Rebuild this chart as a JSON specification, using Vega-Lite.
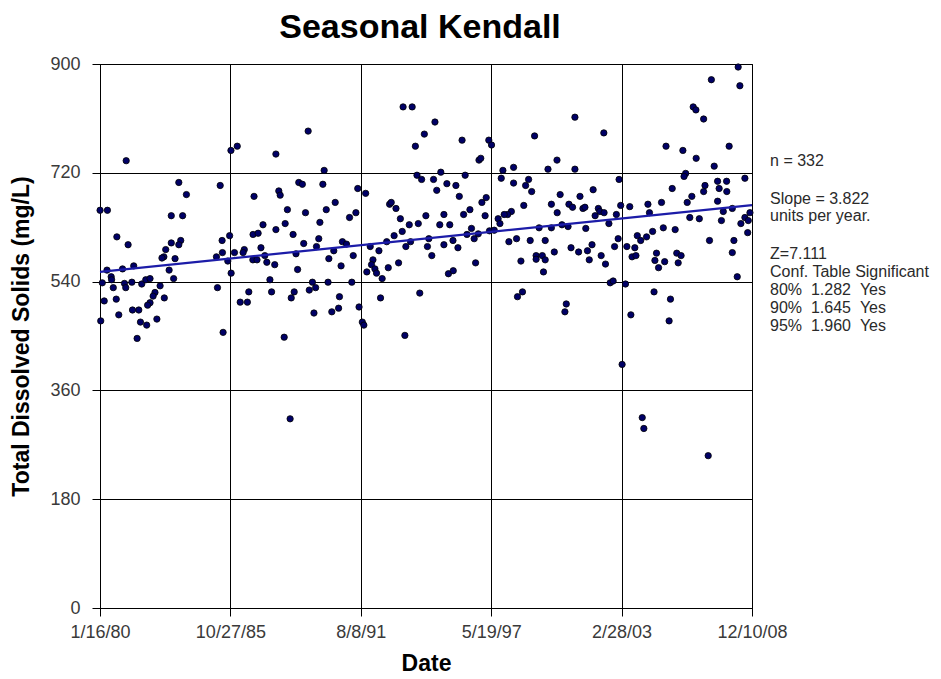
{
  "$schema": "https://vega.github.io/schema/vega-lite/v6.json",
  "width": 652,
  "height": 544,
  "autosize": {"type": "none"},
  "padding": {"left": 100, "top": 64, "right": 189, "bottom": 71},
  "background": "white",
  "title": {"text": "Seasonal Kendall", "fontSize": 34, "fontWeight": "bold", "font": "Liberation Sans", "color": "#000000", "anchor": "middle", "offset": 10, "dx": -6},
  "config": {
    "font": "Liberation Sans",
    "view": {"stroke": "#000000", "strokeWidth": 1},
    "axis": {
      "domainColor": "#000000", "tickColor": "#000000", "gridColor": "#000000", "gridOpacity": 1, "gridWidth": 1,
      "labelColor": "#3a3a3a", "labelFontSize": 18, "labelFont": "Liberation Sans",
      "titleColor": "#000000", "titleFontSize": 23, "titleFont": "Liberation Sans", "titleFontWeight": "bold",
      "tickSize": 8
    }
  },
  "datasets": {
    "obs": [
      {"date":"1981-03-15","tds":740},{"date":"1983-07-15","tds":704},{"date":"1985-05-15","tds":699},{"date":"1983-11-15","tds":684},
      {"date":"1980-01-17","tds":658},{"date":"1980-05-15","tds":658},{"date":"1983-03-15","tds":649},{"date":"1983-09-15","tds":649},
      {"date":"1980-10-15","tds":614},{"date":"1981-04-15","tds":601},{"date":"1983-08-15","tds":608},{"date":"1983-07-15","tds":601},
      {"date":"1983-03-15","tds":604},{"date":"1982-12-15","tds":593},{"date":"1982-11-15","tds":581},{"date":"1982-10-15","tds":579},
      {"date":"1983-05-15","tds":578},{"date":"1985-06-15","tds":608},{"date":"1985-10-15","tds":616},{"date":"1985-03-15","tds":581},
      {"date":"1985-06-20","tds":588},{"date":"1985-09-15","tds":574},{"date":"1985-11-08","tds":554},{"date":"1980-05-08","tds":559},
      {"date":"1980-07-15","tds":548},{"date":"1981-01-15","tds":561},{"date":"1981-07-15","tds":566},{"date":"1983-02-08","tds":559},
      {"date":"1983-04-22","tds":545},{"date":"1980-02-22","tds":538},{"date":"1980-07-22","tds":543},{"date":"1980-08-18","tds":530},
      {"date":"1981-02-15","tds":537},{"date":"1981-03-08","tds":530},{"date":"1981-06-15","tds":539},{"date":"1981-11-22","tds":536},
      {"date":"1982-01-26","tds":543},{"date":"1982-04-05","tds":545},{"date":"1982-09-15","tds":533},{"date":"1985-04-01","tds":530},
      {"date":"1980-03-24","tds":508},{"date":"1980-10-05","tds":511},{"date":"1982-06-24","tds":522},{"date":"1982-05-25","tds":516},
      {"date":"1982-04-05","tds":505},{"date":"1982-02-25","tds":501},{"date":"1982-11-22","tds":513},{"date":"1980-01-28","tds":475},
      {"date":"1980-11-15","tds":485},{"date":"1981-06-25","tds":493},{"date":"1981-10-05","tds":493},{"date":"1981-11-01","tds":473},
      {"date":"1982-02-10","tds":468},{"date":"1982-07-25","tds":478},{"date":"1981-09-08","tds":446},{"date":"1985-07-01","tds":456},
      {"date":"1985-11-05","tds":757},{"date":"1986-02-15","tds":764},{"date":"1987-11-03","tds":751},{"date":"1989-04-08","tds":789},
      {"date":"1989-12-23","tds":724},{"date":"1988-11-07","tds":704},{"date":"1989-01-04","tds":701},{"date":"1989-12-02","tds":701},
      {"date":"1987-12-20","tds":690},{"date":"1988-01-11","tds":683},{"date":"1986-11-14","tds":681},{"date":"1991-06-20","tds":694},
      {"date":"1988-05-07","tds":659},{"date":"1989-02-24","tds":654},{"date":"1990-01-26","tds":659},{"date":"1990-06-20","tds":671},
      {"date":"1991-02-07","tds":646},{"date":"1991-05-21","tds":654},{"date":"1987-04-08","tds":634},{"date":"1988-04-01","tds":636},
      {"date":"1989-10-15","tds":638},{"date":"1987-11-03","tds":626},{"date":"1986-10-29","tds":618},{"date":"1987-01-19","tds":620},
      {"date":"1988-08-07","tds":618},{"date":"1989-09-27","tds":611},{"date":"1989-01-26","tds":603},{"date":"1990-10-15","tds":606},
      {"date":"1990-12-20","tds":602},{"date":"1987-03-06","tds":596},{"date":"1986-06-09","tds":593},{"date":"1986-01-01","tds":588},
      {"date":"1986-05-21","tds":588},{"date":"1989-08-21","tds":598},{"date":"1988-09-23","tds":586},{"date":"1987-05-07","tds":583},
      {"date":"1986-10-26","tds":576},{"date":"1987-01-01","tds":576},{"date":"1987-06-09","tds":572},{"date":"1987-10-15","tds":568},
      {"date":"1990-03-09","tds":578},{"date":"1990-05-28","tds":591},{"date":"1991-04-08","tds":583},{"date":"1988-10-19","tds":560},
      {"date":"1990-09-23","tds":566},{"date":"1987-07-29","tds":543},{"date":"1989-06-16","tds":539},{"date":"1990-02-24","tds":539},
      {"date":"1991-03-16","tds":539},{"date":"1986-08-21","tds":523},{"date":"1987-08-25","tds":523},{"date":"1988-08-25","tds":523},
      {"date":"1989-04-26","tds":526},{"date":"1989-08-07","tds":530},{"date":"1988-07-08","tds":513},{"date":"1990-08-28","tds":515},
      {"date":"1986-04-04","tds":506},{"date":"1986-07-29","tds":506},{"date":"1989-07-11","tds":488},{"date":"1990-04-26","tds":490},
      {"date":"1990-08-14","tds":496},{"date":"1991-07-11","tds":498},{"date":"1991-09-02","tds":473},{"date":"1991-09-27","tds":468},
      {"date":"1988-03-16","tds":448},{"date":"1988-06-20","tds":313},
      {"date":"1993-06-23","tds":829},{"date":"1993-11-17","tds":829},{"date":"1994-11-21","tds":804},{"date":"1994-06-02","tds":784},
      {"date":"1994-01-08","tds":764},{"date":"1996-02-03","tds":774},{"date":"1997-04-11","tds":774},{"date":"1997-05-25","tds":766},
      {"date":"1996-11-03","tds":741},{"date":"1996-12-02","tds":744},{"date":"1994-02-03","tds":716},{"date":"1994-04-19","tds":709},
      {"date":"1994-10-29","tds":709},{"date":"1995-02-24","tds":721},{"date":"1996-03-24","tds":716},{"date":"1994-12-20","tds":691},
      {"date":"1995-06-02","tds":702},{"date":"1995-10-26","tds":699},{"date":"1995-12-20","tds":681},{"date":"1991-10-26","tds":686},
      {"date":"1992-11-17","tds":668},{"date":"1992-12-13","tds":671},{"date":"1993-02-28","tds":661},{"date":"1993-05-10","tds":644},
      {"date":"1993-10-01","tds":634},{"date":"1994-02-24","tds":636},{"date":"1994-06-27","tds":649},{"date":"1995-04-15","tds":651},
      {"date":"1995-02-07","tds":634},{"date":"1995-07-19","tds":634},{"date":"1996-02-28","tds":651},{"date":"1996-06-09","tds":659},
      {"date":"1996-12-20","tds":671},{"date":"1997-02-28","tds":679},{"date":"1997-02-10","tds":649},{"date":"1996-07-04","tds":628},
      {"date":"1993-06-09","tds":623},{"date":"1993-01-29","tds":616},{"date":"1992-10-01","tds":606},{"date":"1992-01-08","tds":598},
      {"date":"1992-05-28","tds":591},{"date":"1993-08-07","tds":598},{"date":"1993-10-22","tds":606},{"date":"1994-07-22","tds":598},
      {"date":"1994-08-14","tds":611},{"date":"1995-04-15","tds":601},{"date":"1995-09-09","tds":608},{"date":"1995-11-28","tds":596},
      {"date":"1996-04-22","tds":618},{"date":"1996-08-17","tds":611},{"date":"1996-10-22","tds":619},{"date":"1997-04-22","tds":624},
      {"date":"1994-10-01","tds":583},{"date":"1992-02-21","tds":576},{"date":"1992-01-29","tds":568},{"date":"1992-03-24","tds":561},
      {"date":"1991-11-14","tds":556},{"date":"1992-04-19","tds":554},{"date":"1992-07-19","tds":545},{"date":"1992-10-26","tds":563},
      {"date":"1993-04-11","tds":571},{"date":"1995-06-27","tds":553},{"date":"1995-09-13","tds":558},{"date":"1996-09-09","tds":571},
      {"date":"1992-06-23","tds":513},{"date":"1994-03-20","tds":521},{"date":"1993-07-22","tds":451},
      {"date":"2001-02-03","tds":812},{"date":"2002-05-17","tds":786},{"date":"1999-04-22","tds":781},{"date":"2000-04-19","tds":741},
      {"date":"1997-11-25","tds":724},{"date":"1998-05-17","tds":729},{"date":"1999-11-25","tds":726},{"date":"2001-02-03","tds":726},
      {"date":"1997-10-29","tds":711},{"date":"1998-05-17","tds":703},{"date":"1999-01-15","tds":709},{"date":"1998-11-28","tds":699},
      {"date":"1999-03-06","tds":689},{"date":"2001-11-25","tds":692},{"date":"2003-01-19","tds":709},{"date":"2000-06-09","tds":684},
      {"date":"1998-10-29","tds":666},{"date":"2000-01-19","tds":668},{"date":"2000-10-29","tds":668},{"date":"2000-12-27","tds":663},
      {"date":"2001-04-26","tds":681},{"date":"2001-06-13","tds":661},{"date":"2001-07-15","tds":663},{"date":"2002-02-17","tds":661},
      {"date":"2002-03-13","tds":656},{"date":"2002-05-21","tds":654},{"date":"2001-12-27","tds":649},{"date":"2003-02-14","tds":666},
      {"date":"2002-12-06","tds":651},{"date":"2000-04-22","tds":654},{"date":"1998-04-11","tds":656},{"date":"1998-02-10","tds":651},
      {"date":"1997-12-16","tds":651},{"date":"1997-09-09","tds":644},{"date":"1997-10-08","tds":636},{"date":"1997-07-08","tds":625},
      {"date":"1999-07-04","tds":629},{"date":"2000-01-19","tds":629},{"date":"2000-07-08","tds":634},{"date":"2000-10-15","tds":631},
      {"date":"2001-07-29","tds":628},{"date":"2002-08-07","tds":636},{"date":"2003-01-04","tds":611},{"date":"1998-03-02","tds":606},
      {"date":"1998-07-04","tds":611},{"date":"1999-02-10","tds":608},{"date":"1999-10-11","tds":608},{"date":"2000-12-02","tds":596},
      {"date":"2001-11-07","tds":601},{"date":"2002-11-07","tds":598},{"date":"1998-09-13","tds":574},{"date":"1999-05-17","tds":583},
      {"date":"1999-05-17","tds":577},{"date":"1999-08-25","tds":583},{"date":"1999-10-11","tds":576},{"date":"2000-03-06","tds":589},
      {"date":"2001-04-04","tds":589},{"date":"2001-08-25","tds":591},{"date":"2001-09-23","tds":576},{"date":"2002-04-04","tds":583},
      {"date":"2002-06-13","tds":569},{"date":"1999-09-13","tds":556},{"date":"2002-08-28","tds":538},{"date":"2002-10-15","tds":541},
      {"date":"1998-07-19","tds":515},{"date":"1998-10-08","tds":523},{"date":"2000-09-16","tds":503},{"date":"2000-08-25","tds":490},
      {"date":"2003-03-09","tds":403},
      {"date":"2008-04-30","tds":895},{"date":"2007-02-21","tds":874},{"date":"2008-05-28","tds":864},{"date":"2006-05-03","tds":829},
      {"date":"2006-06-16","tds":824},{"date":"2006-10-19","tds":809},{"date":"2005-02-17","tds":764},{"date":"2005-11-17","tds":757},
      {"date":"2006-06-20","tds":744},{"date":"2007-12-06","tds":764},{"date":"2007-04-08","tds":731},{"date":"2006-01-01","tds":719},
      {"date":"2005-12-06","tds":714},{"date":"2008-08-17","tds":711},{"date":"2005-05-28","tds":694},{"date":"2006-04-11","tds":681},
      {"date":"2006-11-10","tds":699},{"date":"2006-10-19","tds":689},{"date":"2007-06-02","tds":706},{"date":"2007-06-27","tds":694},
      {"date":"2007-10-26","tds":706},{"date":"2007-10-29","tds":689},{"date":"2006-01-26","tds":671},{"date":"2007-06-02","tds":673},
      {"date":"2003-07-11","tds":664},{"date":"2004-04-30","tds":668},{"date":"2004-12-06","tds":671},{"date":"2004-05-25","tds":654},
      {"date":"2006-03-09","tds":646},{"date":"2006-08-10","tds":644},{"date":"2007-09-02","tds":656},{"date":"2008-01-26","tds":661},
      {"date":"2007-08-03","tds":641},{"date":"2008-08-17","tds":646},{"date":"2008-10-11","tds":641},{"date":"2008-11-07","tds":654},
      {"date":"2008-06-13","tds":636},{"date":"2008-10-01","tds":621},{"date":"2005-01-04","tds":629},{"date":"2005-07-15","tds":626},
      {"date":"2004-07-15","tds":623},{"date":"2004-04-08","tds":614},{"date":"2003-11-10","tds":616},{"date":"2004-01-04","tds":608},
      {"date":"2007-01-22","tds":608},{"date":"2008-02-21","tds":608},{"date":"2003-05-25","tds":598},{"date":"2003-10-01","tds":596},
      {"date":"2003-08-17","tds":581},{"date":"2003-10-19","tds":583},{"date":"2004-09-16","tds":587},{"date":"2004-08-21","tds":575},
      {"date":"2004-10-19","tds":563},{"date":"2005-01-26","tds":573},{"date":"2005-08-10","tds":587},{"date":"2005-10-19","tds":583},
      {"date":"2005-09-02","tds":571},{"date":"2008-01-26","tds":588},{"date":"2008-04-15","tds":548},{"date":"2003-05-03","tds":536},
      {"date":"2004-08-07","tds":523},{"date":"2005-04-30","tds":511},{"date":"2003-07-29","tds":485},{"date":"2005-04-08","tds":475},
      {"date":"2004-01-29","tds":315},{"date":"2004-02-24","tds":297},{"date":"2007-01-01","tds":252}
    ],
    "trend": [
      {"date":"1980-01-16","tds":556},
      {"date":"2008-12-10","tds":666.5}
    ],
    "notes": [
      {"date":"2009-09-28","tds":739.5,"note":"n = 332"},
      {"date":"2009-09-28","tds":676.7,"note":"Slope = 3.822"},
      {"date":"2009-09-28","tds":648.5,"note":"units per year."},
      {"date":"2009-09-28","tds":585.7,"note":"Z=7.111"},
      {"date":"2009-09-28","tds":555.9,"note":"Conf. Table Significant"},
      {"date":"2009-09-28","tds":526.1,"note":"80%\u00a0\u00a01.282\u00a0\u00a0Yes"},
      {"date":"2009-09-28","tds":496.3,"note":"90%\u00a0\u00a01.645\u00a0\u00a0Yes"},
      {"date":"2009-09-28","tds":466.5,"note":"95%\u00a0\u00a01.960\u00a0\u00a0Yes"}
    ]
  },
  "encoding": {
    "x": {
      "field": "date", "type": "temporal", "title": "Date",
      "scale": {"type": "utc", "domain": [{"year":1980,"month":1,"date":16,"utc":true},{"year":2008,"month":12,"date":10,"utc":true}], "nice": false},
      "axis": {
        "values": [
          {"year":1980,"month":1,"date":16,"utc":true},
          {"year":1985,"month":10,"date":27,"utc":true},
          {"year":1991,"month":8,"date":8,"utc":true},
          {"year":1997,"month":5,"date":19,"utc":true},
          {"year":2003,"month":2,"date":28,"utc":true},
          {"year":2008,"month":12,"date":10,"utc":true}
        ],
        "format": "%-m/%-d/%y", "labelPadding": 7, "titlePadding": 11, "labelOverlap": false, "labelFlush": false
      }
    },
    "y": {
      "field": "tds", "type": "quantitative", "title": "Total Dissolved Solids (mg/L)",
      "scale": {"domain": [0, 900], "nice": false, "zero": true},
      "axis": {"values": [0, 180, 360, 540, 720, 900], "labelPadding": 12, "titlePadding": 16}
    }
  },
  "layer": [
    {
      "data": {"name": "obs"},
      "mark": {"type": "point", "filled": true, "shape": "circle", "size": 40, "color": "#000066", "stroke": "#000000", "strokeWidth": 0.8, "opacity": 1}
    },
    {
      "data": {"name": "trend"},
      "mark": {"type": "line", "color": "#1c1ca8", "strokeWidth": 2.2}
    },
    {
      "data": {"name": "notes"},
      "mark": {"type": "text", "align": "left", "baseline": "middle", "fontSize": 16, "font": "Liberation Sans", "color": "#2a2a2a", "clip": false},
      "encoding": {"text": {"field": "note", "type": "nominal"}}
    }
  ]
}
